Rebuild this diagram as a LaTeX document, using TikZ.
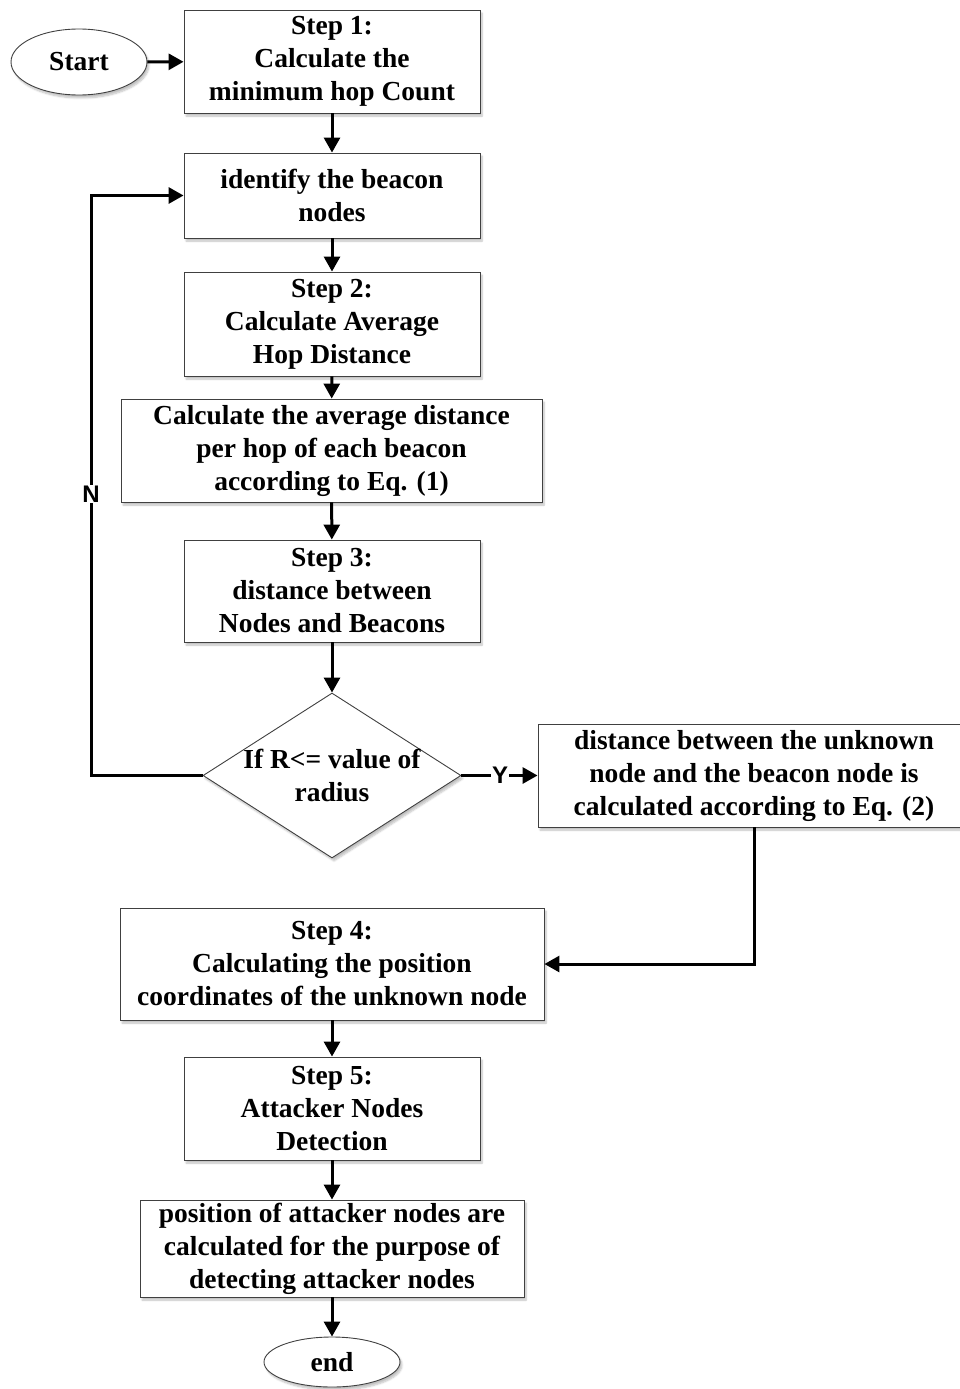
\documentclass[tikz,border=0pt]{standalone}
\usepackage{fontspec}
\setmainfont{Liberation Serif}
\newfontfamily\labfont{Liberation Sans}
\usetikzlibrary{arrows.meta,shapes.geometric,shadows.blur}
\tikzset{
  txt/.style={font=\fontsize{27.5}{33}\selectfont\bfseries, align=center},
  box/.style={draw=black!75, line width=0.9pt, fill=white, txt, inner sep=0pt,
    blur shadow={shadow xshift=2pt, shadow yshift=-3pt, shadow opacity=25, shadow blur steps=6}},
  term/.style={box, ellipse},
  dec/.style={box, diamond},
  conn/.style={line width=3pt, -{Triangle[length=15pt,width=16pt]}},
  lab/.style={font=\labfont\fontsize{24}{28}\selectfont\bfseries, fill=white, inner sep=1pt}
}
\begin{document}
\begin{tikzpicture}[x=1pt,y=-1pt]
\clip (0,0) rectangle (960,1389);
\node[term, minimum width=136pt, minimum height=66pt] (start) at (79,62) {Start};
\node[box, minimum width=296pt, minimum height=103pt] (s1) at (332,61.5) {Step 1:\\Calculate the\\minimum hop Count};
\node[box, minimum width=296pt, minimum height=85pt] (id) at (332,195.5) {identify the beacon\\nodes};
\node[box, minimum width=296pt, minimum height=104pt] (s2) at (332,324) {Step 2:\\Calculate Average\\Hop Distance};
\node[box, minimum width=421pt, minimum height=103pt] (avg) at (331.5,450.5) {Calculate the average distance\\per hop of each beacon\\according to Eq. (1)};
\node[box, minimum width=296pt, minimum height=102pt] (s3) at (332,591) {Step 3:\\distance between\\Nodes and Beacons};
\node[dec, minimum width=258pt, minimum height=165pt, aspect=1.5636] (dia) at (332,775.5) {};
\node[txt] (diat) at (332,775.5) {If R<= value of\\radius};
\node[box, minimum width=432pt, minimum height=103pt] (rb) at (754,775.5) {distance between the unknown\\node and the beacon node is\\calculated according to Eq. (2)};
\node[box, minimum width=424pt, minimum height=112pt] (s4) at (332,964) {Step 4:\\Calculating the position\\coordinates of the unknown node};
\node[box, minimum width=296pt, minimum height=103pt] (s5) at (332,1108.5) {Step 5:\\Attacker Nodes\\Detection};
\node[box, minimum width=384pt, minimum height=97pt] (pos) at (332,1248.5) {position of attacker nodes are\\calculated for the purpose of\\detecting attacker nodes};
\node[term, minimum width=136pt, minimum height=50pt] (end) at (332,1362) {end};

\coordinate (nl) at (91,775.5);
\coordinate (nt) at (91,195.5);
\coordinate (rc) at (rb.south |- s4.east);

\draw[conn] (start) -- (s1);
\draw[conn] (s1) -- (id);
\draw[conn] (id) -- (s2);
\draw[conn] (s2) -- (avg);
\draw[conn] (avg) -- (s3);
\draw[conn] (s3) -- (dia.north);
\draw[conn] (dia.west) -- (nl) -- (nt) -- (id.west);
\node[lab] (nlab) at (91,494) {N};
\draw[conn] (dia.east) -- (rb.west);
\node[lab] (ylab) at (500,775.5) {Y};
\draw[conn] (rb.south) -- (rc) -- (s4.east);
\draw[conn] (s4) -- (s5);
\draw[conn] (s5) -- (pos);
\draw[conn] (pos) -- (end);
\end{tikzpicture}
\end{document}
